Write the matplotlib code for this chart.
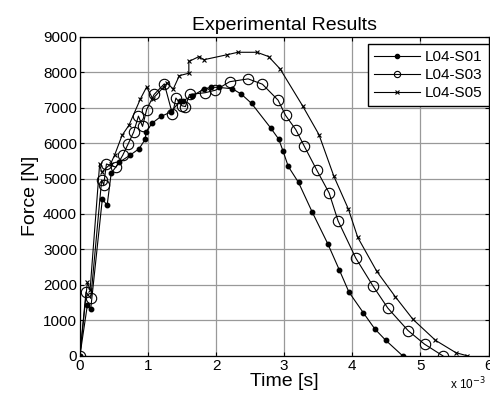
"""
Experimental Results: force vs time for three specimens (L04-S01, S03, S05).
"""

import matplotlib
matplotlib.use("Agg")
import matplotlib.pyplot as plt

# ---------------------------------------------------------------------------
# Data (time in units of 1e-3 s, force in N)
# ---------------------------------------------------------------------------
t_s01 = [0.0, 0.11, 0.16, 0.33, 0.40, 0.46, 0.58, 0.73, 0.87, 0.96, 0.97, 1.06,
         1.19, 1.34, 1.47, 1.52, 1.65, 1.82, 1.92, 2.04, 2.24, 2.37, 2.52, 2.80,
         2.92, 2.98, 3.06, 3.21, 3.41, 3.64, 3.81, 3.95, 4.16, 4.33, 4.49, 4.74]
f_s01 = [0, 1430, 1335, 4430, 4240, 5150, 5460, 5650, 5840, 6110, 6300, 6560,
         6750, 6880, 7190, 7200, 7330, 7520, 7575, 7570, 7530, 7380, 7120, 6430,
         6110, 5790, 5340, 4890, 4060, 3160, 2420, 1800, 1220, 760, 440, 0]

t_s03 = [0.0, 0.09, 0.16, 0.32, 0.35, 0.39, 0.53, 0.63, 0.71, 0.79, 0.86, 0.92,
         0.98, 1.09, 1.24, 1.36, 1.41, 1.50, 1.55, 1.61, 1.84, 1.99, 2.20, 2.47,
         2.68, 2.91, 3.02, 3.17, 3.29, 3.48, 3.66, 3.79, 4.05, 4.30, 4.52, 4.82,
         5.06, 5.33]
f_s03 = [0, 1800, 1620, 4960, 4820, 5410, 5320, 5660, 5980, 6310, 6760, 6470,
         6940, 7370, 7670, 6810, 7270, 7050, 7030, 7370, 7420, 7490, 7730, 7810,
         7660, 7210, 6780, 6380, 5930, 5230, 4590, 3810, 2760, 1980, 1350, 710,
         330, 0]

t_s05 = [0.0, 0.11, 0.15, 0.29, 0.32, 0.45, 0.51, 0.62, 0.72, 0.89, 0.98, 1.07,
         1.23, 1.28, 1.37, 1.46, 1.60, 1.60, 1.75, 1.82, 2.16, 2.32, 2.60, 2.77,
         2.94, 3.27, 3.51, 3.73, 3.94, 4.08, 4.36, 4.63, 4.89, 5.22, 5.52, 5.69]
f_s05 = [0, 2070, 1860, 5400, 5180, 5410, 5660, 6220, 6500, 7250, 7580, 7250,
         7580, 7700, 7520, 7900, 7970, 8300, 8440, 8350, 8490, 8560, 8560, 8440,
         8090, 7050, 6240, 5060, 4150, 3340, 2380, 1670, 1030, 440, 90, 0]

labels = ["L04-S01", "L04-S03", "L04-S05"]

plt.rcParams["font.family"] = ["Liberation Sans", "DejaVu Sans"]

fig = plt.figure(figsize=(4.9, 4.03), dpi=100)
ax = fig.add_axes([0.163, 0.117, 0.834, 0.792])

ax.plot(t_s01, f_s01, color="black", lw=0.8, marker="o", ms=3.2,
        mfc="black", mec="black", label=labels[0])
ax.plot(t_s03, f_s03, color="black", lw=0.8, marker="o", ms=7.5,
        mfc="none", mec="black", mew=0.8, label=labels[1])
ax.plot(t_s05, f_s05, color="black", lw=0.8, marker="x", ms=3.5,
        mec="black", mew=0.8, label=labels[2])

ax.set_xlim(0, 6)
ax.set_ylim(0, 9000)
ax.set_xticks(range(0, 7))
ax.set_yticks(range(0, 9001, 1000))
ax.grid(True, color="#999999", lw=0.9)
ax.set_axisbelow(True)
ax.tick_params(direction="in", top=True, right=True, length=3, labelsize=11,
               pad=2)
for sp in ax.spines.values():
    sp.set_linewidth(0.9)

ax.set_title("Experimental Results", fontsize=14, pad=5)
ax.set_xlabel("Time [s]", fontsize=14, labelpad=0)
ax.set_ylabel("Force [N]", fontsize=14, labelpad=3)

fig.text(0.918, 0.047, r"x 10$^{-3}$", fontsize=8.5, ha="left", va="center")

leg = ax.legend(loc="upper right", bbox_to_anchor=(1.0, 0.976), fontsize=11,
                fancybox=False, framealpha=1, edgecolor="black",
                handlelength=3.0, handletextpad=0.3, labelspacing=0.25,
                borderpad=0.4, borderaxespad=0.0)
leg.get_frame().set_linewidth(1.0)
for h, ms in zip(leg.legend_handles, [3.0, 4.5, 3.0]):
    h.set_markersize(ms)

fig.savefig("out.png", dpi=100)
